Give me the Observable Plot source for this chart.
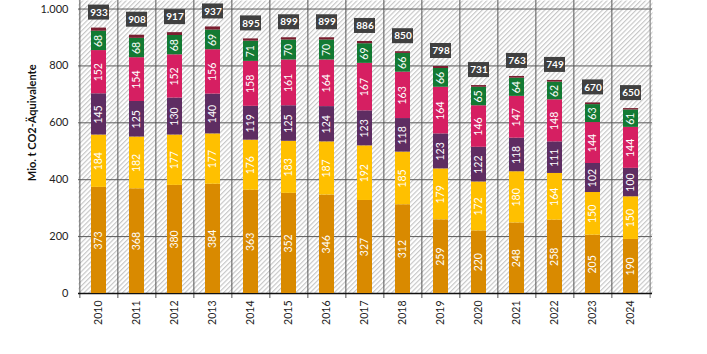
<!DOCTYPE html>
<html>
<head>
<meta charset="utf-8">
<script src="https://cdn.jsdelivr.net/npm/d3@7"></script>
<script src="https://cdn.jsdelivr.net/npm/@observablehq/plot@0.6"></script>
<style>
  html, body { margin: 0; padding: 0; background: #fff; }
  svg { display: block; }
</style>
</head>
<body>
<div id="chart"></div>
<script>
const years = ["2010","2011","2012","2013","2014","2015","2016","2017","2018","2019","2020","2021","2022","2023","2024"];
const s1 = [373,368,380,384,363,352,346,327,312,259,220,248,258,205,190];
const s2 = [184,182,177,177,176,183,187,192,185,179,172,180,164,150,150];
const s3 = [145,125,130,140,119,125,124,123,118,123,122,118,111,102,100];
const s4 = [152,154,152,156,158,161,164,167,163,164,146,147,148,144,144];
const s5 = [68,68,68,69,71,70,70,69,66,66,65,64,62,63,61];
const s6 = [11,11,10,11,8,8,8,8,6,7,6,6,6,6,5];
const totals = [933,908,917,937,895,899,899,886,850,798,731,763,749,670,650];
const seriesNames = ["s1","s2","s3","s4","s5","s6"];
const seriesColors = ["#D98A00","#FFC000","#5E2D62","#D61F62","#137A33","#7A1E30"];
const seriesValues = [s1,s2,s3,s4,s5,s6];
const yTicks = [0,200,400,600,800,1000];
const yLabel = "Mio. t CO2-Äquivalente";

const rows = [];
years.forEach((yr, i) => {
  seriesNames.forEach((s, k) => {
    rows.push({year: yr, series: s, value: seriesValues[k][i], labeled: k < 5});
  });
});
const totalRows = years.map((yr, i) => ({year: yr, total: totals[i]}));

const W = 707, H = 354;
const mL = 78, mR = 55, mT = 0, mB = 61;
const step = (W - mL - mR) / years.length;
const fmt = d3.format(",");
const de = v => fmt(v).replace(/,/g, ".");
const font = "Lato, 'Open Sans', sans-serif";

const stackOpts = {x: "year", y: "value", z: "series", order: seriesNames};

const svg = Plot.plot({
  width: W, height: H,
  marginLeft: mL, marginRight: mR, marginTop: mT, marginBottom: mB,
  style: {fontFamily: font, background: "#fff"},
  x: {domain: years, paddingInner: 0.6, paddingOuter: 0.3, label: null},
  y: {domain: [0, 1030], label: null},
  color: {domain: seriesNames, range: seriesColors},
  marks: [
    Plot.frame({fill: "url(#hatch)", stroke: "none"}),
    Plot.ruleY(yTicks.filter(d => d > 0), {stroke: "#5a5a5a", strokeWidth: 1}),
    Plot.ruleX(years, {x: d => d, dx: -step / 2, stroke: "#555", strokeWidth: 1, insetBottom: -5}),
    Plot.ruleX([years[years.length - 1]], {x: d => d, dx: step / 2, stroke: "#777", strokeWidth: 1, insetBottom: -5}),
    Plot.ruleY([0], {stroke: "#111", strokeWidth: 1.5}),
    Plot.barY(rows, Plot.stackY({...stackOpts, fill: "series"})),
    Plot.text(rows, Plot.stackY({
      ...stackOpts,
      y: "value",
      text: d => d.labeled ? String(d.value) : "",
      rotate: -90, fill: "#fff", fontSize: 10.5, textAnchor: "middle", lineAnchor: "middle"
    })),
    Plot.barY(totalRows, {x: "year", y1: "total", y2: "total", fill: "#404040",
      insetTop: -23, insetBottom: 8, insetLeft: -3, insetRight: -3}),
    Plot.text(totalRows, {x: "year", y: "total", dy: -15.5, text: d => String(d.total),
      fill: "#fff", fontWeight: "bold", fontSize: 10, lineAnchor: "middle"}),
    Plot.axisY(yTicks, {tickSize: 0, tickPadding: 10, tickFormat: de, fontSize: 11, fill: "#222", label: null}),
    Plot.axisX({tickSize: 0, tickPadding: 7, tickRotate: -90, fontSize: 10.5, fill: "#222", label: null}),
    Plot.text([yLabel], {frameAnchor: "left", y: [600], text: d => d, dx: -46, rotate: -90,
      fontWeight: "bold", fontSize: 11, fill: "#111", textAnchor: "middle"})
  ]
});

const ns = "http://www.w3.org/2000/svg";
const defs = document.createElementNS(ns, "defs");
defs.innerHTML = `<pattern id="hatch" patternUnits="userSpaceOnUse" width="3.4" height="3.4" patternTransform="rotate(45)">
  <rect width="3.4" height="3.4" fill="#ffffff"></rect>
  <line x1="0.6" y1="0" x2="0.6" y2="3.4" stroke="#c4c4c4" stroke-width="1.1"></line>
</pattern>`;
svg.insertBefore(defs, svg.firstChild);
document.getElementById("chart").appendChild(svg);
</script>
</body>
</html>
